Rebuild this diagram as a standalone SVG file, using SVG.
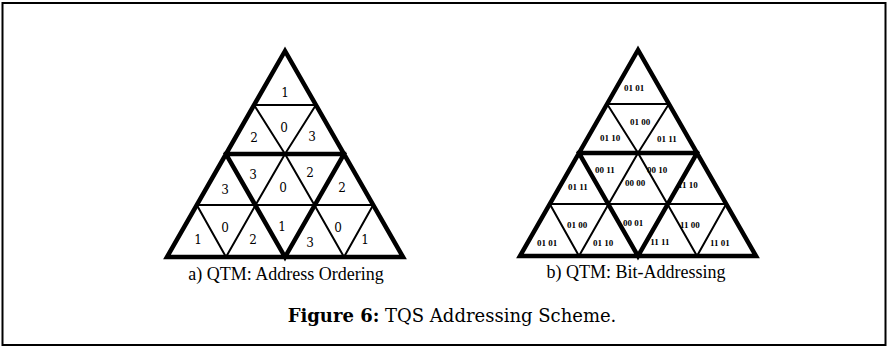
<svg xmlns="http://www.w3.org/2000/svg" xmlns:xlink="http://www.w3.org/1999/xlink" width="888" height="348" viewBox="0 0 888 348">
  <style>
    text { fill: #000; }
    .thick { fill: none; stroke: #000; stroke-width: 4.5; stroke-linejoin: miter; stroke-linecap: square; }
    .thin { fill: none; stroke: #000; stroke-width: 2; stroke-linecap: butt; }
    .num { font-family: "DejaVu Serif", "Liberation Serif", serif; font-size: 12px; text-anchor: middle; }
    .bits { font-family: "Liberation Serif", "DejaVu Serif", serif; font-size: 9px; font-weight: bold; text-anchor: middle; }
    .sub { font-family: "Liberation Serif", "Times New Roman", serif; font-size: 18px; text-anchor: middle; }
    .fig { font-family: "DejaVu Serif", "Liberation Serif", serif; font-size: 18px; text-anchor: middle; }
  </style>
  <defs>
    <!-- quaternary triangular mesh, two levels, apex at (0,0) -->
    <g id="qtm-mesh">
      <!-- level-2 facets (thin) -->
      <path class="thin" d="M-30.9,54 H30.9 M-88.2,154 H88.2 M-30.9,54 L0,103 L30.9,54 M-88.2,154 L-59,206 L-29.4,154 M29.4,154 L59,206 L88.2,154 M-29.4,154 L0,103 L29.4,154"/>
      <!-- level-1 facets (thick) -->
      <path class="thick" d="M0,0 L-118,206 L118,206 Z M-59,103 H59 M-59,103 L0,206 L59,103"/>
    </g>
  </defs>

  <!-- frame -->
  <rect x="2.5" y="3" width="883" height="342" fill="none" stroke="#000" stroke-width="2"/>

  <!-- a) address ordering -->
  <g id="ordering">
    <use xlink:href="#qtm-mesh" transform="translate(285,51)"/>
    <text class="num" x="285" y="97">1</text>
    <text class="num" x="254" y="142">2</text>
    <text class="num" x="284" y="132">0</text>
    <text class="num" x="312" y="141">3</text>
    <text class="num" x="225" y="194">3</text>
    <text class="num" x="253" y="179">3</text>
    <text class="num" x="283" y="192">0</text>
    <text class="num" x="310" y="177">2</text>
    <text class="num" x="342" y="192">2</text>
    <text class="num" x="198" y="244">1</text>
    <text class="num" x="225" y="232">0</text>
    <text class="num" x="253" y="244">2</text>
    <text class="num" x="282" y="231">1</text>
    <text class="num" x="310" y="247">3</text>
    <text class="num" x="338" y="232">0</text>
    <text class="num" x="365" y="244">1</text>
    <text class="sub" x="286" y="280">a) QTM: Address Ordering</text>
  </g>

  <!-- b) bit addressing -->
  <g id="bit-addressing">
    <use xlink:href="#qtm-mesh" transform="translate(638,50)"/>
    <text class="bits" x="634" y="91">01 01</text>
    <text class="bits" x="610" y="141">01 10</text>
    <text class="bits" x="640" y="125">01 00</text>
    <text class="bits" x="667" y="142">01 11</text>
    <text class="bits" x="578" y="190">01 11</text>
    <text class="bits" x="605" y="173">00 11</text>
    <text class="bits" x="635" y="186">00 00</text>
    <text class="bits" x="657" y="173">00 10</text>
    <text class="bits" x="688" y="188">11 10</text>
    <text class="bits" x="547" y="246">01 01</text>
    <text class="bits" x="577" y="228">01 00</text>
    <text class="bits" x="603" y="246">01 10</text>
    <text class="bits" x="633" y="226">00 01</text>
    <text class="bits" x="660" y="245">11 11</text>
    <text class="bits" x="690" y="228">11 00</text>
    <text class="bits" x="720" y="246">11 01</text>
    <text class="sub" x="636" y="278">b) QTM: Bit-Addressing</text>
  </g>

  <!-- figure caption -->
  <text class="fig" x="452" y="322"><tspan font-weight="bold">Figure 6:</tspan> TQS Addressing Scheme.</text>
</svg>
